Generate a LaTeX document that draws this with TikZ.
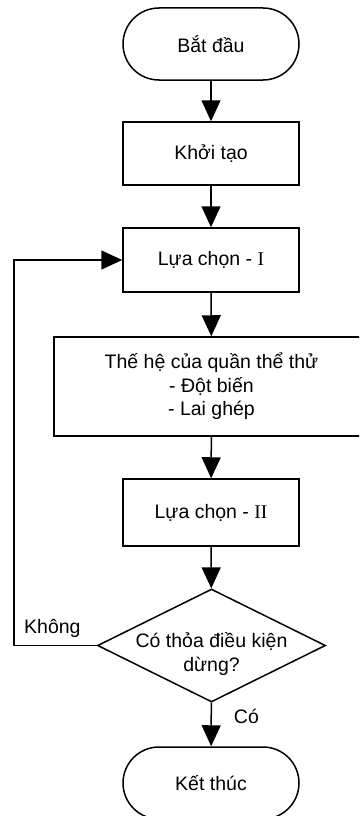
\documentclass[tikz,border=0pt]{standalone}
\usetikzlibrary{arrows.meta}
\usetikzlibrary{shapes.geometric}
\usepackage{fontspec}
\setmainfont{Liberation Sans}
\newfontfamily\romfont{Liberation Serif}
\tikzset{
  txt/.style={font=\fontsize{19.5}{23.5}\selectfont,align=center},
  blk/.style={txt,draw,line width=1.5pt,minimum width=176pt,inner sep=0pt},
  term/.style={blk,minimum height=72pt,rounded corners=36pt},
  flow/.style={line width=1.5pt,-{Triangle[length=21pt,width=19pt]}}
}

\begin{document}
\begin{tikzpicture}[x=1pt,y=-1pt]
\clip (0,0) rectangle (359,816);
\node[term] (start) at (211,44) {Bắt đầu};
\node[blk,minimum height=63pt] (init) at (211,153.5) {Khởi tạo};
\node[blk,minimum height=64pt] (sel1) at (211,260) {Lựa chọn - {\romfont I}};
\node[blk,minimum width=315pt,minimum height=99pt] (gen) at (211.5,386.5)
  {Thế hệ của quần thể thử\\- Đột biến\\- Lai ghép};
\node[blk,minimum height=67pt] (sel2) at (211,512.5) {Lựa chọn - {\romfont II}};
\node[diamond,draw,line width=1.5pt,inner sep=0pt,minimum width=228pt,minimum height=113pt] (cond) at (211.5,645.5) {};
\node[txt,inner sep=0pt] (condtxt) at (211.5,654) {Có thỏa điều kiện\\dừng?};
\node[term] (end) at (211,783) {Kết thúc};
\coordinate (back) at (14,645.5);
\draw[flow] (start) -- (init);
\draw[flow] (init) -- (sel1);
\draw[flow] (sel1) -- (gen);
\draw[flow] (gen) -- (sel2);
\draw[flow] (sel2) -- (cond);
\draw[flow] (cond) -- node[txt,inner sep=0pt,anchor=south west,xshift=22pt] (yes) {Có} (end);
\draw[flow] (cond.west) -- (back) |- (sel1.west);
\node[txt,inner sep=0pt,anchor=south west] (no) at ([xshift=10pt,yshift=8pt]back) {Không};
\end{tikzpicture}
\end{document}
